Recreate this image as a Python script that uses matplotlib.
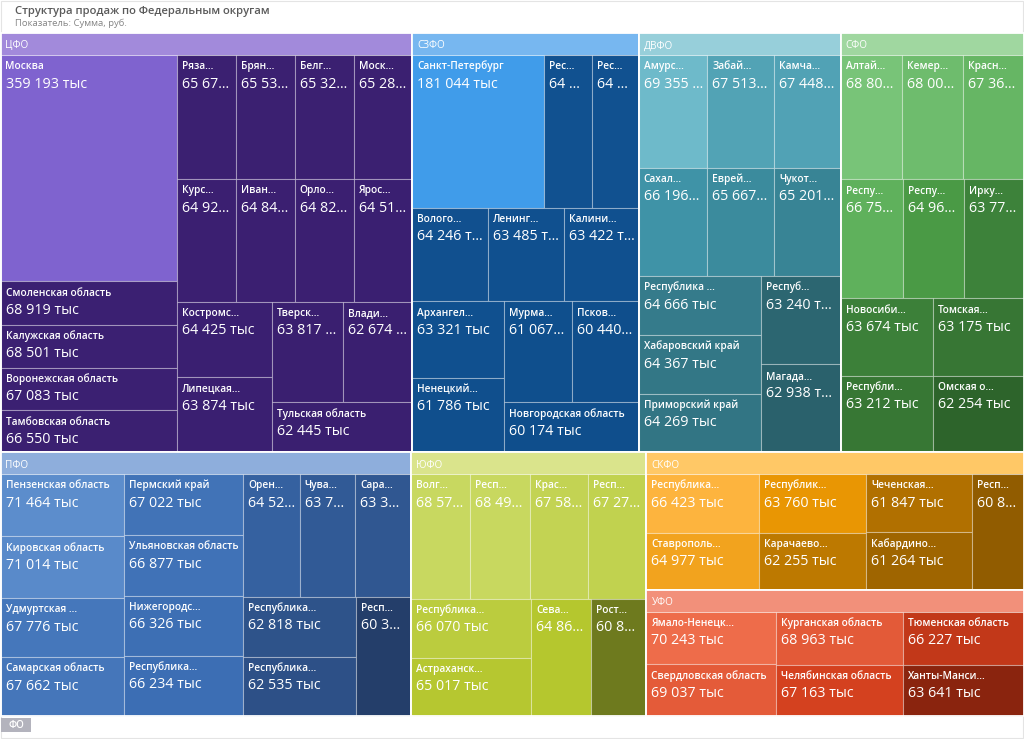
import matplotlib
matplotlib.use("Agg")
import matplotlib.pyplot as plt
from matplotlib.patches import Rectangle
from matplotlib.colors import to_rgb
from matplotlib.font_manager import FontProperties

W, H = 1024, 739
FONT = ["Open Sans", "DejaVu Sans"]

# ---------------- data ----------------
title = "Структура продаж по Федеральным округам"
subtitle = "Показатель: Сумма, руб."
level_label = "ФО"

district_names = ["ЦФО", "СЗФО", "ДВФО", "СФО", "ПФО", "ЮФО", "СКФО", "УФО"]

# region labels as they are shown in the cells
cfo_regions = ["Москва", "Смоленская область", "Калужская область", "Воронежская область",
               "Тамбовская область", "Ряза...", "Брян...", "Белг...", "Моск...", "Курс...",
               "Иван...", "Орло...", "Ярос...", "Костромс...", "Липецкая...", "Тверск...",
               "Влади...", "Тульская область"]
cfo_values = [359193, 68919, 68501, 67083, 66550, 65672, 65534, 65326, 65284, 64921, 64843,
              64825, 64512, 64425, 63874, 63817, 62674, 62445]

szfo_regions = ["Санкт-Петербург", "Рес...", "Рес...", "Волого...", "Ленинг...", "Калини...",
                "Архангел...", "Ненецкий...", "Мурма...", "Псков...", "Новгородская область"]
szfo_values = [181044, 64900, 64600, 64246, 63485, 63422, 63321, 61786, 61067, 60440, 60174]

dvfo_regions = ["Амурс...", "Забай...", "Камча...", "Сахал...", "Еврей...", "Чукот...",
                "Республика ...", "Хабаровский край", "Приморский край", "Респуб...", "Магада..."]
dvfo_values = [69355, 67513, 67448, 66196, 65667, 65201, 64666, 64367, 64269, 63240, 62938]

sfo_regions = ["Алтай...", "Кемер...", "Красн...", "Респу...", "Респу...", "Ирку...",
               "Новосиби...", "Республи...", "Томская...", "Омская о..."]
sfo_values = [68805, 68004, 67361, 66752, 64963, 63774, 63674, 63212, 63175, 62254]

pfo_regions = ["Пензенская область", "Кировская область", "Удмуртская ...", "Самарская область",
               "Пермский край", "Ульяновская область", "Нижегородс...", "Республика...",
               "Орен...", "Чува...", "Сара...", "Республика...", "Республика...", "Респ..."]
pfo_values = [71464, 71014, 67776, 67662, 67022, 66877, 66326, 66234, 64520, 63730, 63340,
              62818, 62535, 60330]

yfo_regions = ["Волг...", "Респ...", "Крас...", "Респ...", "Республика...", "Астраханск...",
               "Сева...", "Рост..."]
yfo_values = [68573, 68494, 67585, 67273, 66070, 65017, 64862, 60830]

skfo_regions = ["Республика...", "Ставрополь...", "Республик...", "Карачаево...",
                "Чеченская...", "Кабардино...", "Респ..."]
skfo_values = [66423, 64977, 63760, 62255, 61847, 61264, 60830]

urfo_regions = ["Ямало-Ненецк...", "Свердловская область", "Курганская область",
                "Челябинская область", "Тюменская область", "Ханты-Манси..."]
urfo_values = [70243, 69037, 68963, 67163, 66227, 63641]

regions = [cfo_regions, szfo_regions, dvfo_regions, sfo_regions,
           pfo_regions, yfo_regions, skfo_regions, urfo_regions]
values = [cfo_values, szfo_values, dvfo_values, sfo_values,
          pfo_values, yfo_values, skfo_values, urfo_values]

# ---------------- layout structure (splits; sizes come from values) ----------------
top_layout = ('v', [('h', [0, 1, 2, 3]), ('h', [4, 5, ('v', [6, 7])])])
district_layouts = [
    ('h', [('v', [0, 1, 2, 3, 4]),
           ('v', [('h', [5, 6, 7, 8]), ('h', [9, 10, 11, 12]),
                  ('h', [('v', [13, 14]), ('v', [('h', [15, 16]), 17])])])]),
    ('v', [('h', [0, 1, 2]), ('h', [3, 4, 5]),
           ('h', [('v', [6, 7]), ('v', [('h', [8, 9]), 10])])]),
    ('v', [('h', [0, 1, 2]), ('h', [3, 4, 5]), ('h', [('v', [6, 7, 8]), ('v', [9, 10])])]),
    ('v', [('h', [0, 1, 2]), ('h', [3, 4, 5]), ('h', [('v', [6, 7]), ('v', [8, 9])])]),
    ('h', [('v', [0, 1, 2, 3]), ('v', [4, 5, 6, 7]),
           ('v', [('h', [8, 9, 10]), ('h', [('v', [11, 12]), 13])])]),
    ('v', [('h', [0, 1, 2, 3]), ('h', [('v', [4, 5]), 6, 7])]),
    ('h', [('v', [0, 1]), ('v', [2, 3]), ('v', [4, 5]), 6]),
    ('h', [('v', [0, 1]), ('v', [2, 3]), ('v', [4, 5])]),
]

# ---------------- styles: (header, light, mid, dark) ----------------
styles = [
    ("#A28ADB", "#7F63CF", "#5A3CA6", "#3A1F70"),
    ("#77B7F0", "#409CEA", "#2673BE", "#0F4E8C"),
    ("#97CFDA", "#6EBACA", "#3E92A6", "#2A616C"),
    ("#A0D7A0", "#78C478", "#50A54B", "#2D642B"),
    ("#8EAEDC", "#5C8DCC", "#3A6CB2", "#243E6A"),
    ("#DAE48C", "#C8D860", "#B4C62C", "#6E7A1E"),
    ("#FFC866", "#FDB43E", "#E89400", "#915C00"),
    ("#F2907A", "#EE6C4A", "#D23E1C", "#8A240E"),
]


def grad(light, mid, dark, t):
    l, m, d = to_rgb(light), to_rgb(mid), to_rgb(dark)
    if t >= 0.5:
        f = (t - 0.5) / 0.5
        return tuple(m[i] + (l[i] - m[i]) * f for i in range(3))
    f = t / 0.5
    return tuple(d[i] + (m[i] - d[i]) * f for i in range(3))


def total(node, vals):
    if isinstance(node, int):
        return vals[node]
    return sum(total(c, vals) for c in node[1])


def layout(node, vals, x, y, w, h, out):
    if isinstance(node, int):
        out.append((node, x, y, w, h))
        return
    d, kids = node
    s = total(node, vals)
    pos = 0.0
    for k in kids:
        f = total(k, vals) / s
        if d == 'h':
            layout(k, vals, x + pos * w, y, f * w, h, out)
        else:
            layout(k, vals, x, y + pos * h, w, f * h, out)
        pos += f


fig = plt.figure(figsize=(W / 100, H / 100), dpi=100)
ax = fig.add_axes([0, 0, 1, 1])
ax.set_xlim(0, W)
ax.set_ylim(H, 0)
ax.axis('off')
renderer = fig.canvas.get_renderer()

fp_name = FontProperties(family=FONT, size=7.3, weight='semibold')
fp_val = FontProperties(family=FONT, size=10.3, weight='normal')
fp_head = FontProperties(family=FONT, size=7.2, weight='normal')


def tw(s, fp):
    w, h, d = renderer.get_text_width_height_descent(s, fp, ismath=False)
    return w


def fit(s, fp, avail):
    if tw(s, fp) <= avail:
        return s
    for k in range(len(s) - 1, 0, -1):
        c = s[:k] + "..."
        if tw(c, fp) <= avail:
            return c
    return "..."


def fmt(v):
    return f"{v:,}".replace(",", " ") + " тыс"


# frame of the whole visual
ax.add_patch(Rectangle((0.5, 0.5), W - 1.5, H - 1.5, fill=False, ec="#E4E4E4", lw=0.8))

ax.text(15, 14.3, title, fontproperties=FontProperties(family=FONT, size=8.1, weight='semibold'),
        color="#5A5A5A", va='baseline', ha='left')
ax.text(15, 26, subtitle, fontproperties=FontProperties(family=FONT, size=6.8),
        color="#858585", va='baseline', ha='left')

X0, Y0, X1, Y1 = 0.5, 33, 1023.5, 716
HEAD = 22
dist_totals = [sum(v) for v in values]
drects = []
layout(top_layout, dist_totals, X0, Y0, X1 - X0, Y1 - Y0, drects)

for di, dx, dy, dw, dh in drects:
    hc, lc, mc, dc = styles[di]
    vals = values[di]
    vmin, vmax = min(vals), max(vals)
    cells = []
    layout(district_layouts[di], vals, dx, dy + HEAD, dw, dh - HEAD, cells)
    for ci, x, y, w, h in cells:
        t = (vals[ci] - vmin) / (vmax - vmin)
        ax.add_patch(Rectangle((x, y), w, h, fc=grad(lc, mc, dc, t),
                               ec=(1, 1, 1, 0.3), lw=0.8))
        val = fit(fmt(vals[ci]), fp_val, w - 8.8)
        ax.text(x + 5, y + 14.3, regions[di][ci], fontproperties=fp_name, color='white',
                va='baseline', ha='left')
        ax.text(x + 5, y + 32.5, val, fontproperties=fp_val, color='white',
                va='baseline', ha='left')
    ax.add_patch(Rectangle((dx, dy), dw, HEAD, fc=hc, ec='none'))
    ax.text(dx + 5, dy + 15.5, district_names[di], fontproperties=fp_head, color='white',
            va='baseline', ha='left')
    ax.add_patch(Rectangle((dx, dy), dw, dh, fill=False, ec='white', lw=1.3))

ax.add_patch(Rectangle((1, 718), 30, 14, fc="#B3B3BD", ec='none'))
ax.text(16, 725.5, level_label, fontproperties=FontProperties(family=FONT, size=7.0, weight='semibold'),
        color='white', va='center', ha='center')

fig.savefig("out.png", dpi=100)
